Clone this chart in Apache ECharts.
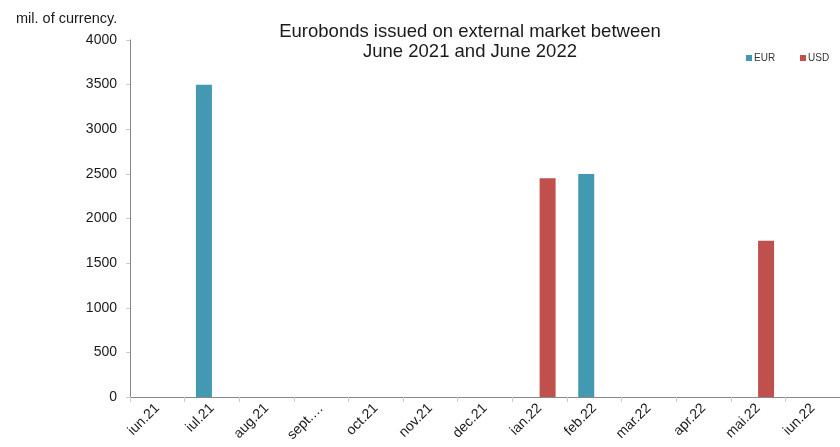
<!DOCTYPE html>
<html>
<head>
<meta charset="utf-8">
<script src="https://cdn.jsdelivr.net/npm/echarts@6/dist/echarts.min.js"></script>
<style>
  html, body { margin: 0; padding: 0; background: #fff; }
  #chart { width: 840px; height: 447px; }
</style>
</head>
<body>
<div id="chart"></div>
<script>
// Monthly eurobond issues, millions of currency units
var months = ['iun.21', 'iul.21', 'aug.21', 'sept.…', 'oct.21', 'nov.21', 'dec.21',
              'ian.22', 'feb.22', 'mar.22', 'apr.22', 'mai.22', 'iun.22'];
var eurValues = [0, 3500, 0, 0, 0, 0, 0, 0, 2500, 0, 0, 0, 0];
var usdValues = [0, 0, 0, 0, 0, 0, 0, 2450, 0, 0, 0, 1750, 0];
var yTicks = [0, 500, 1000, 1500, 2000, 2500, 3000, 3500, 4000];

var FONT = '"Liberation Sans", Arial, sans-serif';
var TEXT = '#1a1a1a';

var chart = echarts.init(document.getElementById('chart'), null, { renderer: 'canvas' });

var legendBase = {
  top: 53, padding: 0, icon: 'rect', itemWidth: 6, itemHeight: 6, itemGap: 4,
  itemStyle: { borderWidth: 0 },
  textStyle: { fontFamily: FONT, fontSize: 10, color: '#333', padding: [0, 0, 0, -3] }
};

chart.setOption({
  animation: false,
  backgroundColor: '#ffffff',
  textStyle: { fontFamily: FONT, color: TEXT },
  title: [
    {
      text: 'Eurobonds issued on external market between\nJune 2021 and June 2022',
      left: 465,
      top: 17,
      textAlign: 'center',
      textStyle: { fontFamily: FONT, fontSize: 18.5, fontWeight: 'normal', color: TEXT, lineHeight: 20 }
    },
    {
      text: 'mil. of currency.',
      left: 11,
      top: 6,
      textStyle: { fontFamily: FONT, fontSize: 14.5, fontWeight: 'normal', color: TEXT }
    }
  ],
  legend: [
    Object.assign({ data: ['EUR'], left: 746 }, legendBase),
    Object.assign({ data: ['USD'], left: 800 }, legendBase)
  ],
  grid: { left: 130, top: 40, width: 722, height: 357, containLabel: false },
  xAxis: {
    type: 'category',
    data: months,
    boundaryGap: true,
    axisLine: { lineStyle: { color: '#888888', width: 1 } },
    axisTick: { show: true, length: 5, lineStyle: { color: '#cccccc' } },
    axisLabel: {
      rotate: 45, interval: 0, margin: 9,
      fontFamily: FONT, fontSize: 14, color: TEXT
    },
    splitLine: { show: false }
  },
  yAxis: {
    type: 'value',
    min: yTicks[0],
    max: yTicks[yTicks.length - 1],
    interval: 500,
    axisLine: { show: true, lineStyle: { color: '#888888', width: 1 } },
    axisTick: { show: true, length: 4, lineStyle: { color: '#cccccc' } },
    axisLabel: {
      margin: 13, fontFamily: FONT, fontSize: 14, color: TEXT,
      formatter: function (v) { return String(v); }
    },
    splitLine: { show: false }
  },
  series: [
    {
      name: 'EUR', type: 'bar', data: eurValues,
      barWidth: 16, barGap: '0%',
      itemStyle: { color: '#4399B2' }
    },
    {
      name: 'USD', type: 'bar', data: usdValues,
      barWidth: 16, barGap: '0%',
      itemStyle: { color: '#C0504D' }
    }
  ]
});
</script>
</body>
</html>
